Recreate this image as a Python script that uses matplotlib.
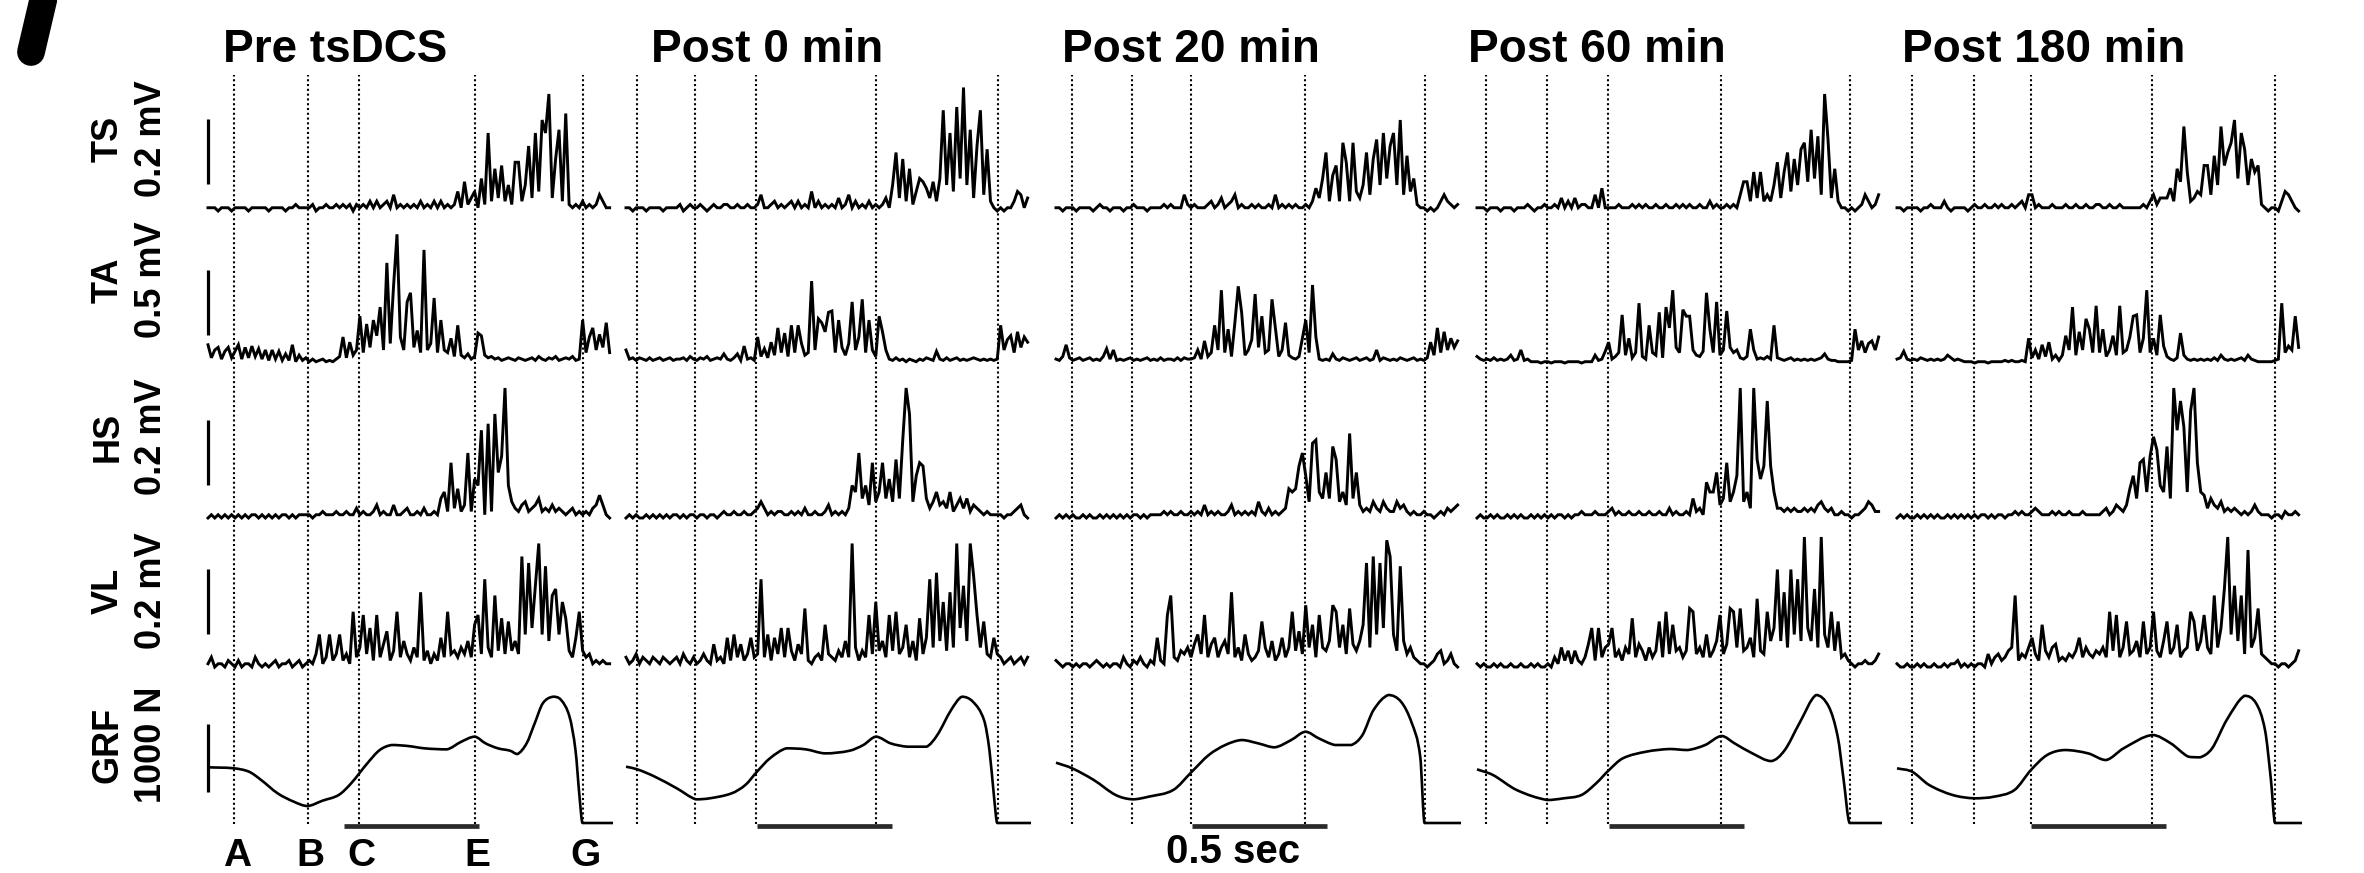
import numpy as np
import matplotlib
matplotlib.use("Agg")
import matplotlib.pyplot as plt
from matplotlib.lines import Line2D
from matplotlib.path import Path
from matplotlib.patches import PathPatch
from matplotlib.transforms import blended_transform_factory

plt.rcParams['font.family'] = ['Liberation Sans', 'DejaVu Sans']

# ---------------- data ----------------
conditions = ["Pre tsDCS", "Post 0 min", "Post 20 min", "Post 60 min", "Post 180 min"]
muscles = ["TS", "TA", "HS", "VL", "GRF"]
scale_labels = ["0.2 mV", "0.5 mV", "0.2 mV", "0.2 mV", "1000 N"]
scale_values = [0.2, 0.5, 0.2, 0.2, 1000.0]      # mV, mV, mV, mV, N
event_labels = ["A", "B", "C", "E", "G"]
time_bar_label = "0.5 sec"
time_bar_len = 0.5                                 # s
emg_dt = 0.0125                                    # s between EMG samples
emg_unit = 0.01                                    # EMG arrays in 0.01 mV

# gait event times (s from start of each sweep)
events_pre = [0.096, 0.370, 0.559, 0.989, 1.389]
events_p0 = [0.041, 0.256, 0.481, 0.926, 1.378]
events_p20 = [0.059, 0.281, 0.500, 0.922, 1.367]
events_p60 = [0.033, 0.259, 0.485, 0.904, 1.381]
events_p180 = [0.056, 0.285, 0.496, 0.944, 1.400]
bar_start = [0.504, 0.485, 0.504, 0.489, 0.496]    # start of 0.5 s bar

# ---- rectified EMG (0.01 mV) ----
ts_pre = [1,1,1,0,1,1,1,0,1,1, 1,1,0,1,1,1,1,1,0,1, 1,1,1,0,1,1,2,1,1,1, 1,2,0,1,1,2,1,1,2,1,
          2,1,2,0,2,1,2,1,3,1, 3,1,2,3,1,5,1,2,1,2, 1,2,1,3,1,2,1,3,1,3, 1,2,1,2,6,1,9,2,4,6,
          1,10,2,24,3,13,4,14,3,8, 2,15,15,3,8,20,4,24,6,28, 24,36,4,16,25,3,30,2,1,2, 1,3,1,2,1,2,5,3,1,1]
ta_pre = [14,4,10,12,3,9,12,4,9,14, 3,12,4,13,5,11,3,10,2,10, 3,9,2,7,2,14,1,6,2,4, 1,3,1,2,3,1,2,1,3,5,
          20,4,16,6,10,36,8,30,12,33, 21,43,10,77,15,60,99,20,10,47, 54,12,25,8,87,10,15,50,8,33, 10,8,19,5,29,6,4,7,3,5,
          23,21,6,4,5,3,4,2,3,4, 3,2,4,3,2,3,4,2,5,3, 2,4,3,5,2,3,4,3,5,2, 3,33,8,20,27,10,22,12,31,8]
hs_pre = [0,1,0,1,0,1,0,1,0,1, 0,1,0,1,1,0,1,0,1,0, 1,0,1,1,0,1,0,1,1,1, 1,0,1,1,2,1,1,1,2,1,
          1,2,1,1,3,1,2,1,1,2, 4,1,2,1,1,4,1,1,2,3, 1,1,2,1,3,1,1,2,1,6, 8,2,17,3,9,2,4,20,2,12,
          10,27,1,29,2,32,14,19,40,10, 5,3,2,4,5,2,3,4,6,2, 3,2,4,2,3,2,1,2,3,1, 2,1,2,1,3,4,7,4,1,0]
vl_pre = [1,3,0,1,1,0,2,1,0,2, 0,1,1,0,3,1,0,1,0,1, 2,0,1,1,2,0,1,2,0,1, 2,1,4,10,1,3,10,2,4,10,
          2,4,1,17,3,6,16,4,12,2, 16,3,7,11,2,5,17,3,8,4, 2,6,3,23,2,5,1,4,2,9, 3,17,4,5,3,6,4,8,3,13,
          16,4,27,6,3,22,5,15,4,14, 5,8,4,34,10,32,12,25,38,10, 31,8,22,24,10,20,15,5,3,9, 17,5,3,4,1,2,1,2,1,1]

ts_p0 = [1,1,0,1,1,1,0,1,1,1, 1,0,1,1,1,1,2,0,1,2, 1,1,2,1,0,1,2,1,1,2, 2,1,1,2,1,1,2,1,1,2,
         5,1,1,2,3,1,2,1,2,3, 1,3,1,2,1,6,1,3,1,2, 1,2,1,4,1,2,5,1,3,1, 2,1,3,1,2,1,2,4,1,8,
         18,4,16,3,13,2,6,10,9,7, 4,9,3,10,31,8,24,6,32,10, 38,8,25,4,20,31,5,19,3,1, 0,1,0,1,1,3,6,5,1,4]
ta_p0 = [10,3,4,2,4,3,2,4,2,3, 4,2,3,4,2,3,3,4,2,5, 3,2,4,3,5,2,3,4,3,7, 3,2,4,7,2,13,3,4,2,20,
         5,11,4,16,6,27,8,23,5,29, 8,29,15,6,8,63,10,34,31,24, 39,40,8,33,12,6,15,47,10,20, 49,8,33,10,5,36,24,10,3,2,
         4,2,3,1,3,2,1,3,2,4, 3,2,9,3,2,4,2,3,4,2, 3,2,3,4,3,2,3,2,3,2, 3,29,10,18,21,8,24,12,20,16]
hs_p0 = [0,1,0,1,0,0,1,0,1,0, 1,0,1,0,1,1,0,1,0,1, 1,0,1,1,0,1,1,0,1,2, 1,1,2,1,1,2,1,1,2,3,
         5,3,1,2,1,2,2,1,1,2, 1,2,1,3,1,1,2,1,1,2, 4,1,2,1,2,1,3,10,8,20, 6,10,4,17,5,8,17,6,12,5,
         18,6,24,40,32,5,13,17,16,6, 3,5,8,4,5,3,8,2,4,6, 3,6,2,4,3,2,1,2,1,1, 1,1,0,1,1,2,3,4,1,0]
vl_p0 = [3,1,2,4,1,3,2,1,3,2, 1,3,2,1,2,3,1,4,2,1, 3,1,2,4,2,1,7,2,3,1, 9,2,10,3,7,2,4,9,3,4,
         27,3,10,2,9,4,12,3,12,5, 2,7,4,18,2,1,3,4,2,13, 4,3,2,5,3,8,3,38,6,2, 5,3,16,4,20,5,8,3,16,5,
         17,4,6,13,3,8,2,15,4,9, 27,6,29,8,20,5,23,6,38,12, 25,8,38,28,16,6,14,4,3,9, 4,3,1,2,3,1,2,3,1,3]

ts_p20 = [1,1,0,1,1,1,0,1,1,1, 1,0,1,2,1,1,0,1,1,1, 0,1,1,2,1,1,1,0,1,1, 1,1,2,1,2,1,1,1,5,2,
          1,2,1,1,1,2,3,1,2,4, 1,2,3,5,1,2,1,1,2,1, 2,1,1,2,1,5,1,2,1,2, 1,2,1,1,2,1,3,7,4,10,
          18,3,11,14,3,21,15,3,21,6, 4,8,18,5,16,22,8,24,10,20, 24,8,28,5,17,6,10,2,1,1, 0,1,0,1,3,5,3,2,1,2]
ta_p20 = [3,2,5,14,4,2,3,4,2,3, 4,2,3,2,5,11,3,10,2,3, 2,3,4,2,3,2,3,4,2,3, 2,4,2,3,3,2,4,2,4,3,
          3,4,10,3,17,5,8,29,10,56, 8,26,5,31,59,39,6,10,18,53, 12,36,8,10,49,27,5,10,31,6, 4,3,5,19,33,8,60,20,3,2,
          3,2,7,3,2,4,3,2,3,4, 2,3,4,2,3,10,2,4,3,2, 3,2,4,3,2,3,4,2,3,2, 4,16,6,27,8,24,10,19,12,17]
hs_p20 = [0,1,0,1,0,1,0,0,1,0, 1,0,0,1,0,1,0,1,0,1, 0,1,0,1,1,0,1,0,1,1, 1,1,2,1,2,1,1,2,1,1,
          2,1,2,1,4,1,2,1,2,1, 1,2,4,1,2,1,2,1,2,1, 5,2,1,3,1,2,1,2,3,9, 8,9,16,20,13,5,23,24,8,6,
          14,6,22,18,5,8,4,26,6,14, 4,2,3,2,5,3,2,5,3,2, 2,5,3,4,2,1,2,1,1,2, 1,1,0,1,2,1,3,2,3,4]
vl_p20 = [2,1,0,1,1,0,1,0,1,1, 0,1,2,1,0,1,0,1,1,0, 3,1,0,2,1,3,1,0,2,1, 9,2,1,16,22,3,2,5,4,6,
          3,7,10,4,16,3,7,9,3,6, 8,4,23,3,6,2,10,4,2,3, 5,14,6,3,8,2,4,9,3,6, 17,5,11,4,19,6,13,3,16,6,
          5,8,19,17,6,13,4,18,7,5, 8,13,32,6,34,10,32,12,39,34, 10,5,31,8,4,6,3,2,1,1, 0,1,2,4,5,1,2,4,1,0]

ts_p60 = [1,1,1,0,1,1,1,0,1,1, 1,0,1,1,1,2,1,0,1,1, 2,1,1,2,1,4,1,3,1,4, 1,2,2,1,1,5,1,7,1,1,
          1,1,2,1,1,1,2,1,2,1, 2,1,1,2,1,1,2,1,1,2, 1,2,1,2,1,1,2,1,1,3, 1,2,1,1,2,1,2,1,5,9,
          9,3,12,4,12,3,5,3,8,15, 4,12,18,6,16,8,19,21,9,25, 10,23,5,36,22,4,13,3,1,1, 0,1,0,1,2,5,3,1,2,5]
ta_p60 = [5,3,2,3,2,4,2,3,2,3, 6,2,3,10,2,3,1,1,1,0, 1,1,0,1,1,1,0,1,1,1, 1,0,1,1,1,6,2,3,9,16,
          3,5,8,37,6,19,4,8,46,5, 3,29,8,6,39,4,43,27,56,12, 8,41,36,36,10,6,5,9,54,26, 8,47,6,10,40,12,8,10,4,3,
          5,26,10,3,4,3,5,3,29,4, 3,2,3,4,2,3,2,3,2,3, 2,3,4,7,3,2,2,1,1,1, 1,2,26,10,17,8,15,17,10,20]
hs_p60 = [0,1,0,0,1,0,1,0,0,1, 0,1,0,1,0,0,1,0,1,0, 1,0,1,0,1,1,0,1,0,1, 1,2,1,1,1,2,1,1,1,2,
          3,1,2,1,1,2,1,1,2,1, 1,2,1,1,2,1,1,3,1,2, 1,1,2,1,6,2,3,1,11,8, 8,14,4,6,17,5,8,13,40,5,
          8,3,40,18,12,16,36,16,8,3, 3,2,3,2,3,2,2,3,2,3, 2,4,5,3,2,3,1,1,2,1, 1,0,1,1,2,3,5,4,2,2]
vl_p60 = [1,0,1,0,0,1,0,1,0,0, 1,0,0,1,0,0,1,0,1,0, 0,1,0,3,1,6,2,5,1,5, 2,1,3,7,12,2,12,3,6,7,
          12,3,5,2,6,4,15,3,7,5, 2,6,3,5,14,3,17,4,13,5, 6,3,5,18,17,4,6,3,10,3, 5,8,16,4,7,18,17,6,18,5,
          6,9,3,21,5,4,17,8,12,30, 8,23,6,30,10,27,8,40,12,8, 24,6,40,10,6,17,5,14,3,4, 2,1,0,1,1,2,1,1,2,4]

ts_p180 = [1,1,0,1,1,1,1,0,1,1, 2,1,1,1,3,1,0,1,1,1, 1,0,1,2,1,1,2,1,1,2, 1,2,1,1,2,1,2,3,1,5,
           5,1,2,1,1,1,2,1,1,1, 2,1,1,2,1,1,2,1,1,2, 2,1,1,2,1,1,2,1,1,1, 1,1,1,2,1,3,5,2,4,4,
           4,7,3,13,9,26,12,3,4,6, 5,14,14,5,17,8,26,14,18,21, 28,10,24,19,8,16,12,14,2,1, 0,1,1,0,3,6,5,3,1,0]
ta_p180 = [3,4,9,3,2,3,2,4,3,2, 3,2,3,2,3,6,4,2,3,2, 1,1,1,0,1,1,1,0,1,1, 1,1,2,1,2,1,1,2,1,19,
           4,10,3,14,5,16,3,6,2,6, 21,10,43,6,24,10,34,26,8,44, 8,26,5,10,21,6,44,8,10,20, 36,37,8,19,56,8,19,6,37,13,
           5,3,2,4,23,6,3,2,3,2, 3,2,3,2,4,2,6,3,2,3, 2,3,4,2,6,3,2,1,1,1, 1,1,2,3,46,8,13,10,36,12]
hs_p180 = [0,1,0,1,0,0,1,0,1,0, 1,0,1,0,0,1,0,1,0,1, 0,1,0,1,0,1,1,0,1,0, 1,1,0,1,1,2,1,2,1,1,
           2,3,2,1,1,1,2,1,2,1, 1,2,1,1,1,2,1,1,1,1, 1,2,3,1,2,4,3,2,4,9, 13,6,17,18,8,19,25,21,10,8,
           22,6,40,27,36,28,8,33,40,17, 8,7,3,6,4,3,5,2,3,2, 3,2,1,2,1,2,4,2,1,1, 1,0,1,1,0,2,1,1,2,1]
vl_p180 = [1,0,0,1,0,0,1,0,1,0, 0,1,0,0,1,0,1,1,2,0, 1,0,1,0,1,1,0,4,1,3, 4,2,3,5,6,22,2,4,3,6,
           9,4,2,13,5,3,6,7,2,3, 2,4,3,5,9,3,6,4,3,5, 4,6,3,17,5,16,3,6,14,4, 5,8,3,14,4,6,17,5,3,8,
           14,4,6,13,3,5,6,17,14,5, 8,16,6,4,22,6,12,24,40,10, 25,8,22,4,36,6,9,18,4,3, 2,1,1,0,1,1,0,1,2,5]

# ---- ground reaction force (time s, force N) ----
grf_t_pre = [0.0, 0.096, 0.152, 0.197, 0.258, 0.318, 0.368, 0.424, 0.484, 0.530, 0.590, 0.636, 0.681, 0.741,
             0.802, 0.885, 0.938, 0.988, 1.028, 1.074, 1.119, 1.146, 1.180, 1.210, 1.240, 1.278, 1.308, 1.339,
             1.361, 1.376, 1.387, 1.5]
grf_n_pre = [819, 804, 754, 632, 436, 313, 250, 328, 412, 583, 877, 1073, 1147, 1132, 1098, 1083, 1195, 1269,
             1171, 1098, 1063, 1014, 1171, 1466, 1760, 1857, 1808, 1563, 1073, 387, 0, 0]
grf_t_p0 = [0.0, 0.042, 0.107, 0.188, 0.259, 0.310, 0.391, 0.442, 0.485, 0.533, 0.594, 0.666, 0.737, 0.828,
            0.879, 0.926, 0.980, 1.042, 1.113, 1.153, 1.204, 1.244, 1.285, 1.326, 1.346, 1.363, 1.375, 1.5]
grf_n_p0 = [828, 789, 681, 510, 348, 363, 436, 559, 754, 951, 1098, 1083, 1024, 1063, 1147, 1269, 1171, 1122,
            1122, 1294, 1661, 1857, 1783, 1514, 1073, 387, 0, 0]
grf_t_p20 = [0.0, 0.060, 0.140, 0.221, 0.284, 0.343, 0.434, 0.503, 0.566, 0.627, 0.688, 0.749, 0.810, 0.871,
             0.924, 0.973, 1.033, 1.094, 1.135, 1.176, 1.231, 1.278, 1.318, 1.349, 1.365, 1.5]
grf_n_p20 = [887, 804, 632, 412, 348, 387, 485, 754, 1000, 1147, 1220, 1171, 1113, 1220, 1342, 1245, 1147, 1147,
             1294, 1661, 1882, 1783, 1466, 975, 0, 0]
grf_t_p60 = [0.0, 0.059, 0.147, 0.260, 0.321, 0.387, 0.441, 0.489, 0.540, 0.627, 0.714, 0.780, 0.845, 0.906,
             0.954, 1.020, 1.090, 1.140, 1.194, 1.256, 1.303, 1.336, 1.358, 1.380, 1.5]
grf_n_p60 = [789, 706, 485, 338, 363, 412, 583, 779, 951, 1049, 1088, 1073, 1147, 1279, 1171, 1024, 911, 1073,
             1466, 1882, 1710, 1269, 632, 0, 0]
grf_t_p180 = [0.0, 0.056, 0.119, 0.206, 0.287, 0.359, 0.435, 0.496, 0.556, 0.621, 0.708, 0.774, 0.839, 0.946,
              1.014, 1.079, 1.123, 1.167, 1.221, 1.287, 1.330, 1.363, 1.385, 1.400, 1.5]
grf_n_p180 = [804, 754, 559, 412, 363, 387, 485, 779, 1000, 1073, 1024, 926, 1098, 1294, 1171, 975, 966, 1098,
              1514, 1871, 1760, 1367, 632, 0, 0]

events = [events_pre, events_p0, events_p20, events_p60, events_p180]
emg = [[ts_pre, ta_pre, hs_pre, vl_pre],
       [ts_p0, ta_p0, hs_p0, vl_p0],
       [ts_p20, ta_p20, hs_p20, vl_p20],
       [ts_p60, ta_p60, hs_p60, vl_p60],
       [ts_p180, ta_p180, hs_p180, vl_p180]]
grf = [(grf_t_pre, grf_n_pre), (grf_t_p0, grf_n_p0), (grf_t_p20, grf_n_p20),
       (grf_t_p60, grf_n_p60), (grf_t_p180, grf_n_p180)]

# ---------------- layout (pixels) ----------------
W, H = 2364, 873
fig = plt.figure(figsize=(W / 100, H / 100), dpi=100)
fig.patch.set_facecolor('white')

col_left_px = [208, 626, 1056, 1477, 1897]
panel_w_px = 405
t_span = 1.5
title_x_px = [223, 651, 1062, 1468, 1902]
title_base_px = 62
row_base_px = [211, 363, 518, 667, 823]
row_span_px = [(78, 226), (226, 380), (380, 534), (534, 684), (684, 845)]
scale_px = [65, 65, 65, 65, 68]
bar_bottom_px = [184, 335, 485, 634, 792]
label1_x_px, label2_x_px = 108, 152
label_y_px = [139, 280, 437, 591, 745]
dots_top_px, dots_bot_px = 75, 824
stance_bar_px = 826
letters_y_px = 856
secs_x_px, secs_y_px = 1233, 852


def axes_px(left, top, width, height):
    a = fig.add_axes([left / W, 1 - (top + height) / H, width / W, height / H])
    a.set_axis_off()
    return a


def fx(px):
    return px / W


def fy(py):
    return 1 - py / H


def smooth_path(xs, ys):
    """Bezier path through the given points (Catmull-Rom tangents, control
    points kept inside each segment's vertical range)."""
    xs = np.asarray(xs, float)
    ys = np.asarray(ys, float)
    n = len(xs)
    verts = [(xs[0], ys[0])]
    codes = [Path.MOVETO]
    for i in range(n - 1):
        i0, i3 = max(i - 1, 0), min(i + 2, n - 1)
        lo, hi = min(ys[i], ys[i + 1]), max(ys[i], ys[i + 1])
        dx = xs[i + 1] - xs[i]
        c1x = xs[i] + dx / 3
        c2x = xs[i + 1] - dx / 3
        s1 = (ys[i + 1] - ys[i0]) / (xs[i + 1] - xs[i0])
        s2 = (ys[i3] - ys[i]) / (xs[i3] - xs[i])
        c1y = np.clip(ys[i] + s1 * dx / 3, lo, hi)
        c2y = np.clip(ys[i + 1] - s2 * dx / 3, lo, hi)
        verts += [(c1x, c1y), (c2x, c2y), (xs[i + 1], ys[i + 1])]
        codes += [Path.CURVE4, Path.CURVE4, Path.CURVE4]
    return Path(verts, codes)


# column backgrounds with dotted event lines
for c in range(5):
    ax = axes_px(col_left_px[c], dots_top_px, panel_w_px, dots_bot_px - dots_top_px)
    ax.set_xlim(0, t_span)
    ax.set_ylim(0, 1)
    ax.vlines(events[c], 0, 1, colors='black', linewidth=1.5,
              linestyles=(0, (1.0, 1.3)))

t_emg = np.arange(len(ts_pre)) * emg_dt
lw_trace = 2.1

for c in range(5):
    for r in range(5):
        top, bot = row_span_px[r]
        ax = axes_px(col_left_px[c], top, panel_w_px, bot - top)
        ppu = scale_px[r] / scale_values[r]
        base = row_base_px[r]
        ax.set_xlim(0, t_span)
        ax.set_ylim(-(bot - base) / ppu, (base - top) / ppu)
        if r < 4:
            vals = np.asarray(emg[c][r], dtype=float) * emg_unit
            ax.plot(t_emg, vals, color='black', lw=lw_trace, clip_on=False,
                    solid_joinstyle='miter')
        else:
            gt, gn = grf[c]
            ax.add_patch(PathPatch(smooth_path(gt, gn), facecolor='none', edgecolor='black',
                                   lw=1.9, clip_on=False, joinstyle='round'))
            yb = -(stance_bar_px - base) / ppu
            ax.plot([bar_start[c], bar_start[c] + time_bar_len], [yb, yb],
                    color='#2a2a2a', lw=3.4, solid_capstyle='butt', clip_on=False)
        if c == 0:
            b0 = (base - bar_bottom_px[r]) / ppu
            ax.plot([0, 0], [b0, b0 + scale_values[r]], color='black', lw=2.3,
                    solid_capstyle='butt', clip_on=False)
        if c == 0 and r == 4:
            tr = blended_transform_factory(ax.transData, fig.transFigure)
            for ev, lab in zip(events[0], event_labels):
                ax.text(ev + 0.01, fy(letters_y_px), lab, transform=tr, ha='center', va='center',
                        fontsize=28, fontweight='bold')

# titles
for c in range(5):
    fig.text(fx(title_x_px[c]), fy(title_base_px), conditions[c], ha='left', va='baseline',
             fontsize=33, fontweight='bold')

# row labels
for r in range(5):
    fig.text(fx(label1_x_px), fy(label_y_px[r]), muscles[r], rotation=90, ha='center', va='center',
             fontsize=26, fontweight='bold')
    fig.text(fx(label2_x_px), fy(label_y_px[r]), scale_labels[r], rotation=90, ha='center', va='center',
             fontsize=26, fontweight='bold')

# time bar label
fig.text(fx(secs_x_px), fy(secs_y_px), time_bar_label, ha='center', va='center',
         fontsize=29, fontweight='bold')

# cropped panel letter stroke at top-left
fig.add_artist(Line2D([fx(46), fx(31)], [fy(-12), fy(52)], color='black', lw=20,
                      solid_capstyle='round'))

fig.savefig("out.png", dpi=100, facecolor='white')
